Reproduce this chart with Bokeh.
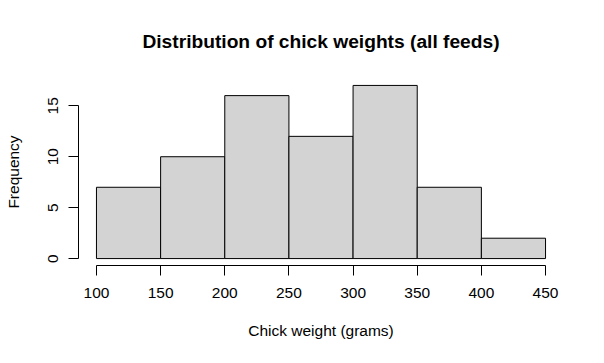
from bokeh.plotting import figure
from bokeh.models import Range1d, FixedTicker
from bokeh.embed import file_html
from bokeh.resources import INLINE

# Data (bin edges and counts)
bin_left = [100, 150, 200, 250, 300, 350, 400]
bin_right = [150, 200, 250, 300, 350, 400, 450]
counts = [7, 10, 16, 12, 17, 7, 2]
x_ticks = [100, 150, 200, 250, 300, 350, 400, 450]
y_ticks = [0, 5, 10, 15]

FONT = "Liberation Sans"

p = figure(width=604, height=363, output_backend="svg", toolbar_location=None,
           title="Distribution of chick weights (all feeds)",
           x_range=Range1d(86, 464), y_range=Range1d(-0.68, 17.68),
           min_border_left=78, min_border_right=41, min_border_top=78, min_border_bottom=98)

p.quad(left=bin_left, right=bin_right, bottom=0, top=counts,
       fill_color="#d3d3d3", line_color="black", line_width=1)

p.title.align = "center"
p.title.text_font = FONT
p.title.text_font_size = "19.2px"
p.title.text_font_style = "bold"
p.title.text_color = "black"
p.title.standoff = 53

p.outline_line_color = None
p.xgrid.visible = False
p.ygrid.visible = False
p.background_fill_color = "white"
p.border_fill_color = "white"

for ax, ticks in ((p.xaxis[0], x_ticks), (p.yaxis[0], y_ticks)):
    ax.ticker = FixedTicker(ticks=ticks)
    ax.bounds = (min(ticks), max(ticks))
    ax.minor_tick_line_color = None
    ax.major_tick_in = 0
    ax.major_tick_out = 10
    ax.major_tick_line_color = "black"
    ax.axis_line_color = "black"
    ax.major_label_text_font = FONT
    ax.major_label_text_font_size = "15.5px"
    ax.major_label_text_color = "black"
    ax.axis_label_text_font = FONT
    ax.axis_label_text_font_size = "15.5px"
    ax.axis_label_text_font_style = "normal"
    ax.axis_label_text_color = "black"

p.xaxis.axis_label = "Chick weight (grams)"
p.yaxis.axis_label = "Frequency"
p.yaxis.major_label_orientation = "vertical"
p.xaxis.major_label_standoff = 12
p.yaxis.major_label_standoff = 10
p.xaxis.axis_label_standoff = 21
p.yaxis.axis_label_standoff = 24

open("out.html", "w").write(file_html(p, INLINE))
